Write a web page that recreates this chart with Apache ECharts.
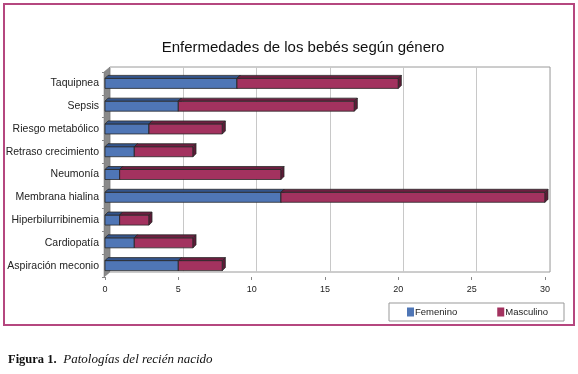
<!DOCTYPE html>
<html>
<head>
<meta charset="utf-8">
<script src="https://cdn.jsdelivr.net/npm/echarts@6/dist/echarts.min.js"></script>
<style>
  html, body { margin: 0; padding: 0; background: #fff; }
  #chart { width: 578px; height: 374px; }
</style>
</head>
<body>
<div id="chart"></div>
<script>
// datos
var categorias = ['Taquipnea', 'Sepsis', 'Riesgo metabólico', 'Retraso crecimiento', 'Neumonía',
  'Membrana hialina', 'Hiperbilurribinemia', 'Cardiopatía', 'Aspiración meconio'];
var femenino = [9, 5, 3, 2, 1, 12, 1, 2, 5];
var masculino = [11, 12, 5, 4, 11, 18, 2, 4, 3];
var ticksX = [0, 5, 10, 15, 20, 25, 30];

var DEPTH = 3;

// barra con efecto 3D (cara frontal, superior y lateral)
function barra3d(colFront, colTop, colSide) {
  return function (params, api) {
    var c = api.value(2);
    var s = api.coord([api.value(0), c]);
    var e = api.coord([api.value(1), c]);
    var h = api.size([0, 1])[1] * 0.44;
    var y = s[1] - h / 2;
    var stroke = '#2a2a2a';
    return {
      type: 'group',
      children: [
        { type: 'rect', shape: { x: s[0], y: y, width: e[0] - s[0], height: h },
          style: { fill: colFront, stroke: stroke, lineWidth: 0.8 } },
        { type: 'polygon', shape: { points: [[s[0], y], [s[0] + DEPTH, y - DEPTH], [e[0] + DEPTH, y - DEPTH], [e[0], y]] },
          style: { fill: colTop, stroke: stroke, lineWidth: 0.8 } },
        { type: 'polygon', shape: { points: [[e[0], y], [e[0] + DEPTH, y - DEPTH], [e[0] + DEPTH, y + h - DEPTH], [e[0], y + h]] },
          style: { fill: colSide, stroke: stroke, lineWidth: 0.8 } }
      ]
    };
  };
}

var datosFem = femenino.map(function (v, i) { return [0, v, i]; });
var datosMasc = masculino.map(function (v, i) { return [femenino[i], femenino[i] + v, i]; });

var chart = echarts.init(document.getElementById('chart'));

chart.setOption({
  animation: false,
  title: {
    text: 'Enfermedades de los bebés según género',
    left: 298, textAlign: 'center', top: 35,
    textStyle: { fontFamily: 'Liberation Sans, Arial', fontSize: 15, fontWeight: 'normal', color: '#111' }
  },
  legend: {
    left: 389, top: 303,
    padding: [4, 16, 4, 18],
    itemGap: 40,
    itemWidth: 7, itemHeight: 9,
    icon: 'rect',
    borderColor: '#999', borderWidth: 1,
    textStyle: { fontFamily: 'Liberation Sans, Arial', fontSize: 9.5, color: '#222', padding: [0, 0, 0, -4] },
    data: ['Femenino', 'Masculino']
  },
  grid: [
    // pared del fondo
    { left: 110, right: 28, top: 67, bottom: 102, show: true, borderColor: '#9a9a9a', borderWidth: 1, backgroundColor: '#fff' },
    // plano frontal con las barras
    { left: 105, right: 33, top: 72, bottom: 97 }
  ],
  xAxis: [
    { gridIndex: 0, type: 'value', min: 0, max: 30, interval: 5,
      axisLine: { show: false }, axisTick: { show: false }, axisLabel: { show: false },
      splitLine: { lineStyle: { color: '#c8c8c8', width: 1 } } },
    { gridIndex: 1, type: 'value', min: 0, max: 30, interval: 5,
      axisLine: { show: false }, splitLine: { show: false },
      axisTick: { show: true, length: 3, lineStyle: { color: '#888' } },
      axisLabel: { margin: 8, fontFamily: 'Liberation Sans, Arial', fontSize: 9, color: '#222',
        formatter: function (v) { return ticksX.indexOf(v) >= 0 ? String(v) : ''; } } }
  ],
  yAxis: [
    { gridIndex: 0, type: 'category', data: categorias, inverse: true,
      axisLine: { show: false }, axisTick: { show: false }, axisLabel: { show: false } },
    { gridIndex: 1, type: 'category', data: categorias, inverse: true,
      axisLine: { show: false },
      axisTick: { show: true, length: 3, lineStyle: { color: '#888' } },
      axisLabel: { margin: 6, fontFamily: 'Liberation Sans, Arial', fontSize: 10.5, color: '#222' } }
  ],
  graphic: [
    // marco exterior
    { type: 'rect', shape: { x: 4, y: 4, width: 570, height: 321 }, z: -10,
      style: { fill: 'none', stroke: '#b5477f', lineWidth: 2 } },
    // pared lateral gris
    { type: 'polygon', shape: { points: [[104, 72], [110, 67], [110, 272], [104, 277]] },
      style: { fill: '#8a8a8a', stroke: '#6e6e6e', lineWidth: 0.5 } },
    // pie de figura
    { type: 'text', left: 8, top: 353,
      style: {
        text: '{b|Figura 1.}  {i|Patologías del recién nacido}',
        rich: {
          b: { fontFamily: 'Liberation Serif, Times New Roman', fontWeight: 'bold', fontSize: 12.5, fill: '#111' },
          i: { fontFamily: 'Liberation Serif, Times New Roman', fontStyle: 'italic', fontSize: 13, fill: '#111' }
        }
      } }
  ],
  series: [
    { name: 'Femenino', type: 'custom', xAxisIndex: 1, yAxisIndex: 1,
      itemStyle: { color: '#4f76b6' },
      encode: { x: [0, 1], y: 2 },
      renderItem: barra3d('#4f76b6', '#34558c', '#2c4878'),
      data: datosFem },
    { name: 'Masculino', type: 'custom', xAxisIndex: 1, yAxisIndex: 1,
      itemStyle: { color: '#a3325f' },
      encode: { x: [0, 1], y: 2 },
      renderItem: barra3d('#a3325f', '#6e1f40', '#5e1a37'),
      data: datosMasc }
  ]
});
</script>
</body>
</html>
